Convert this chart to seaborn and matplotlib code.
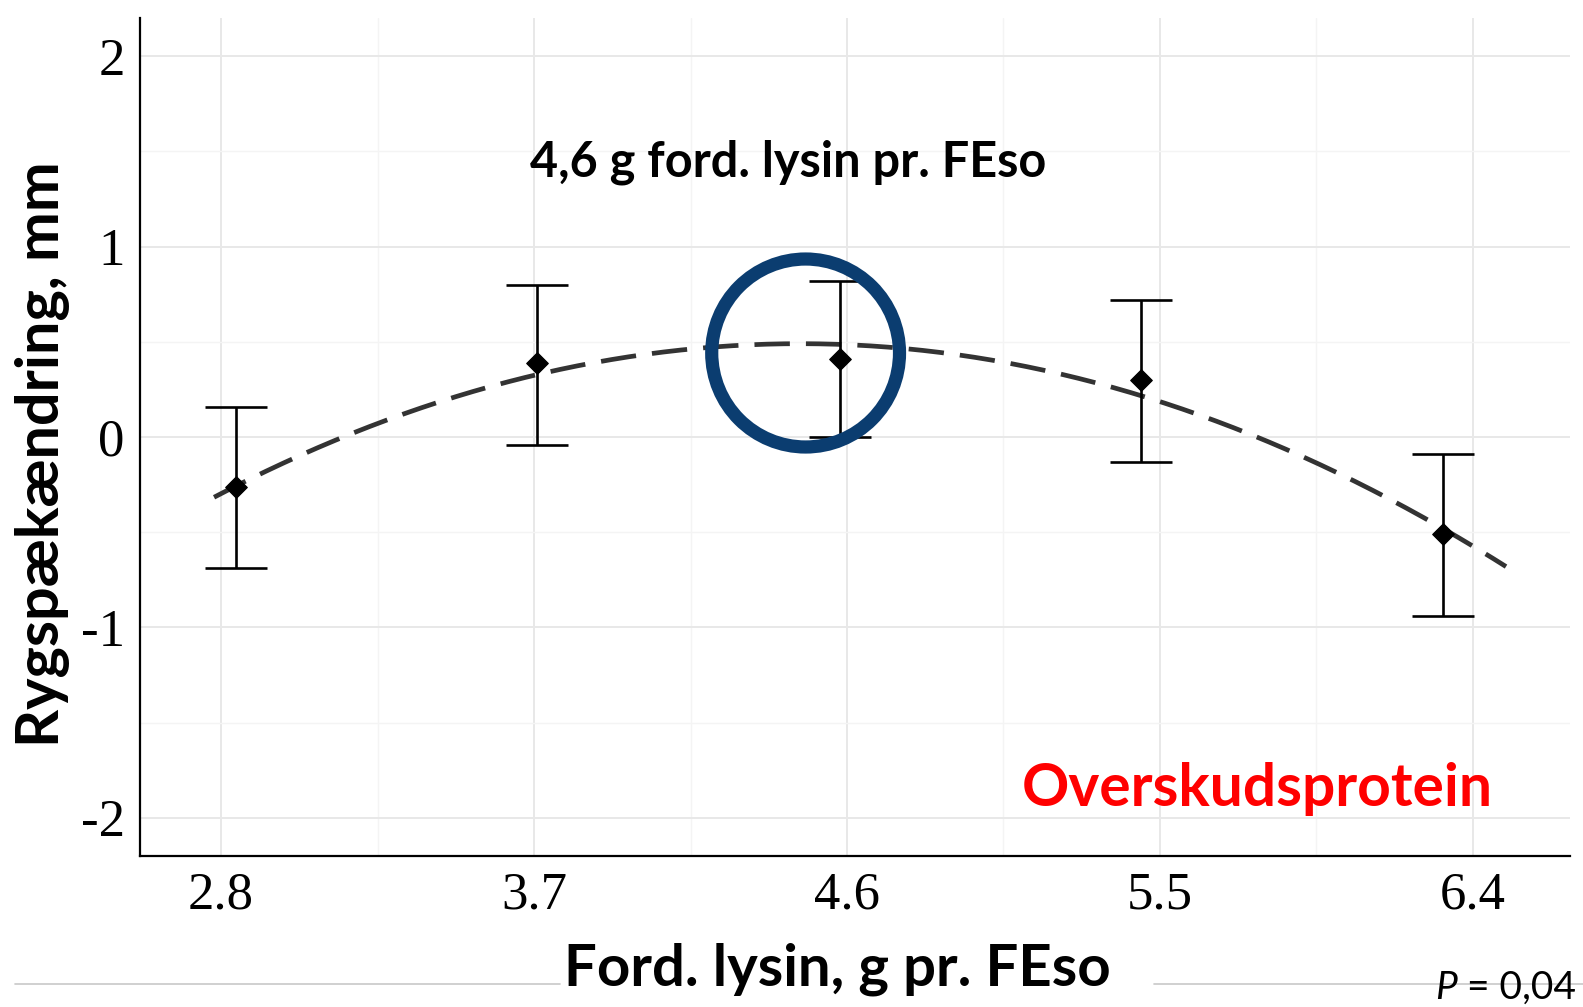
import numpy as np
import matplotlib
matplotlib.use('Agg')
import matplotlib.pyplot as plt
import seaborn as sns
import pandas as pd
from matplotlib.patches import Ellipse
from matplotlib.lines import Line2D

# --- data ---
lysin_x = [2.843, 3.709, 4.580, 5.445, 6.314]
ryg_mean = [-0.26, 0.39, 0.41, 0.30, -0.51]
ryg_lo = [-0.69, -0.04, 0.00, -0.13, -0.94]
ryg_hi = [0.16, 0.80, 0.82, 0.72, -0.09]

tick_x = [2.8, 3.7, 4.6, 5.5, 6.4]
tick_x_labels = ['2.8', '3.7', '4.6', '5.5', '6.4']
tick_y = [-2, -1, 0, 1, 2]
tick_y_labels = ['-2', '-1', '0', '1', '2']

# quadratic fit (vertex form)
fit_top_x, fit_top_y, fit_curv = 4.465, 0.49, -0.284
fit_range = [2.78, 6.495]

# marked optimum (blue ring)
ring_x, ring_y = 4.481, 0.441
ring_w, ring_h = 0.540, 0.987

sns.set_theme(style='white', rc={'text.color': 'black', 'axes.labelcolor': 'black'})
plt.rcParams['font.family'] = 'Liberation Serif'

W, H = 1583, 1007
fig = plt.figure(figsize=(W / 100, H / 100), dpi=100)
ax = fig.add_axes([140 / W, 1 - 856 / H, 1430 / W, 838 / H])

df = pd.DataFrame({'lysin': lysin_x, 'ryg': ryg_mean})
curve_x = np.linspace(fit_range[0], fit_range[1], 300)
curve = pd.DataFrame({'lysin': curve_x,
                      'ryg': fit_curv * (curve_x - fit_top_x) ** 2 + fit_top_y})

# grid
ax.set_axisbelow(True)
ax.set_xticks(tick_x)
ax.set_xticklabels(tick_x_labels)
ax.set_yticks(tick_y)
ax.set_yticklabels(tick_y_labels)
ax.set_xticks([3.25, 4.15, 5.05, 5.95], minor=True)
ax.set_yticks([-1.5, -0.5, 0.5, 1.5], minor=True)
ax.grid(which='major', color='#e8e8e8', lw=1.4)
ax.grid(which='minor', color='#f4f4f4', lw=1.0)

sns.lineplot(data=curve, x='lysin', y='ryg', ax=ax, color='#333333', lw=3.4,
             linestyle=(0, (7.5, 3.4)), zorder=3)

yerr = [np.array(ryg_mean) - np.array(ryg_lo), np.array(ryg_hi) - np.array(ryg_mean)]
ax.errorbar(lysin_x, ryg_mean, yerr=yerr, fmt='none', ecolor='black',
            elinewidth=1.9, capsize=22, capthick=1.9, zorder=4)
sns.scatterplot(data=df, x='lysin', y='ryg', ax=ax, marker='D', s=120,
                color='black', edgecolor='black', zorder=5)

ax.add_patch(Ellipse((ring_x, ring_y), ring_w, ring_h, fill=False,
                     edgecolor='#0b3d70', lw=9.5, zorder=6))

ax.set_xlim(2.567, 6.679)
ax.set_ylim(-2.2, 2.2)

for s in ['top', 'right']:
    ax.spines[s].set_visible(False)
for s in ['left', 'bottom']:
    ax.spines[s].set_color('black')
    ax.spines[s].set_linewidth(1.6)
ax.tick_params(axis='both', which='major', length=5, width=1.2, color='#555555',
               labelsize=38, pad=6, labelcolor='black')
ax.tick_params(axis='both', which='minor', length=0)

# labels
ax.set_xlabel('Ford. lysin, g pr. FEso', family='Lato', weight='bold', fontsize=40,
              color='black')
ax.xaxis.set_label_coords((837 - 140) / 1430, (856 - 969) / 838)
ax.xaxis.label.set_va('center')
ax.set_ylabel('Rygspækændring, mm', family='Lato', weight='bold', fontsize=40,
              color='black')
ax.yaxis.set_label_coords((43 - 140) / 1430, (856 - 454) / 838)
ax.yaxis.label.set_va('center')
ax.yaxis.label.set_ha('center')

t_top = ax.text((788 - 140) / 1430, (856 - 162) / 838, '4,6 g ford. lysin pr. FEso',
                transform=ax.transAxes, family='Lato', weight='bold', fontsize=34,
                ha='center', va='center', color='black')
t_red = ax.text((1257 - 140) / 1430, (856 - 789) / 838, 'Overskudsprotein',
                transform=ax.transAxes, family='Lato', weight='bold', fontsize=39,
                ha='center', va='center', color='#ff0000')

t_p = fig.text(1457 / W, 1 - 988 / H, 'P', family='Lato', style='italic',
               fontsize=28, ha='right', va='center', color='black')
t_pv = fig.text(1457 / W, 1 - 988 / H, ' = 0,04', family='Lato',
                fontsize=28, ha='left', va='center', color='black')

# thin grey rule under the chart
fig.add_artist(Line2D([15 / W, 560 / W], [1 - 984 / H] * 2, color='#c8c8c8', lw=1.2))
fig.add_artist(Line2D([1154 / W, 1], [1 - 984 / H] * 2, color='#c8c8c8', lw=1.2))


def fit_width(t, target, vertical=False):
    fig.canvas.draw()
    bb = t.get_window_extent(fig.canvas.get_renderer())
    size = bb.height if vertical else bb.width
    t.set_fontsize(t.get_fontsize() * target / size)


fit_width(ax.xaxis.label, 548)
fit_width(ax.yaxis.label, 585, vertical=True)
fit_width(t_top, 517)
fit_width(t_red, 469)

fig.savefig('out.png', dpi=100)
